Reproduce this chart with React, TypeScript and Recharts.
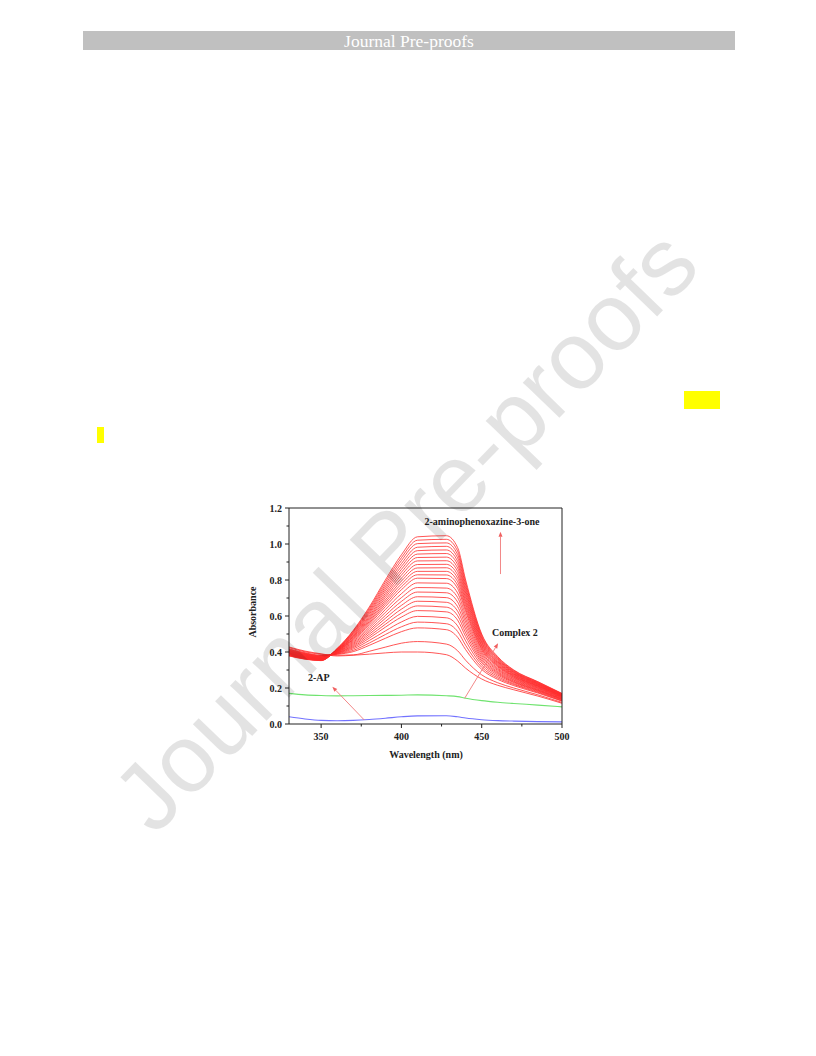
import { Line, LineChart, ReferenceLine, XAxis, YAxis } from 'recharts'

// wavelengths (nm) the spectra were read at
const wavelength = [330, 340, 350, 360, 370, 380, 390, 400, 410, 428, 435, 440, 450, 460, 470, 485, 500]

// 2-AP (blue)
const apSpectrum = [0.040, 0.028, 0.020, 0.018, 0.020, 0.025, 0.032, 0.040, 0.045, 0.046, 0.040, 0.033, 0.024, 0.019, 0.016, 0.013, 0.012]
// Complex 2 (green)
const complexSpectrum = [0.170, 0.162, 0.158, 0.156, 0.157, 0.158, 0.159, 0.160, 0.162, 0.157, 0.152, 0.143, 0.130, 0.121, 0.114, 0.105, 0.095]

// 2-aminophenoxazine-3-one growth, one row per scan (red)
const productScans: number[][] = [
  [0.428, 0.405, 0.390, 0.378, 0.382, 0.388, 0.395, 0.400, 0.400, 0.385, 0.350, 0.310, 0.250, 0.215, 0.190, 0.155, 0.115],
  [0.424, 0.401, 0.387, 0.382, 0.384, 0.404, 0.427, 0.449, 0.458, 0.444, 0.407, 0.354, 0.273, 0.229, 0.200, 0.162, 0.120],
  [0.418, 0.396, 0.382, 0.387, 0.402, 0.437, 0.476, 0.513, 0.534, 0.524, 0.482, 0.413, 0.303, 0.248, 0.213, 0.172, 0.127],
  [0.415, 0.393, 0.380, 0.389, 0.409, 0.450, 0.497, 0.540, 0.566, 0.557, 0.514, 0.437, 0.315, 0.256, 0.219, 0.176, 0.129],
  [0.413, 0.391, 0.378, 0.391, 0.417, 0.464, 0.517, 0.567, 0.598, 0.590, 0.545, 0.462, 0.328, 0.264, 0.224, 0.180, 0.132],
  [0.410, 0.389, 0.376, 0.393, 0.424, 0.477, 0.538, 0.594, 0.630, 0.623, 0.577, 0.486, 0.340, 0.272, 0.230, 0.184, 0.135],
  [0.408, 0.387, 0.375, 0.395, 0.430, 0.488, 0.554, 0.616, 0.656, 0.649, 0.602, 0.506, 0.350, 0.279, 0.234, 0.187, 0.137],
  [0.406, 0.385, 0.373, 0.396, 0.436, 0.499, 0.570, 0.638, 0.682, 0.676, 0.627, 0.526, 0.360, 0.285, 0.238, 0.190, 0.139],
  [0.404, 0.383, 0.372, 0.398, 0.442, 0.510, 0.587, 0.659, 0.707, 0.702, 0.652, 0.545, 0.370, 0.291, 0.243, 0.193, 0.141],
  [0.402, 0.382, 0.370, 0.400, 0.448, 0.520, 0.603, 0.681, 0.733, 0.729, 0.678, 0.565, 0.380, 0.298, 0.247, 0.197, 0.144],
  [0.400, 0.380, 0.369, 0.402, 0.454, 0.531, 0.620, 0.702, 0.758, 0.755, 0.703, 0.584, 0.390, 0.304, 0.252, 0.200, 0.146],
  [0.398, 0.378, 0.367, 0.403, 0.460, 0.542, 0.636, 0.724, 0.784, 0.782, 0.728, 0.604, 0.400, 0.310, 0.256, 0.203, 0.148],
  [0.396, 0.376, 0.366, 0.405, 0.466, 0.553, 0.652, 0.746, 0.810, 0.808, 0.753, 0.624, 0.410, 0.317, 0.260, 0.206, 0.150],
  [0.395, 0.375, 0.365, 0.406, 0.471, 0.561, 0.665, 0.762, 0.829, 0.828, 0.772, 0.638, 0.418, 0.322, 0.264, 0.209, 0.152],
  [0.393, 0.374, 0.363, 0.407, 0.475, 0.569, 0.677, 0.778, 0.848, 0.848, 0.791, 0.653, 0.425, 0.326, 0.267, 0.211, 0.154],
  [0.392, 0.372, 0.362, 0.409, 0.480, 0.577, 0.689, 0.794, 0.867, 0.868, 0.810, 0.668, 0.433, 0.331, 0.270, 0.213, 0.155],
  [0.390, 0.371, 0.361, 0.410, 0.484, 0.585, 0.702, 0.810, 0.886, 0.887, 0.829, 0.682, 0.440, 0.336, 0.274, 0.216, 0.157],
  [0.389, 0.369, 0.360, 0.411, 0.489, 0.593, 0.714, 0.827, 0.906, 0.907, 0.848, 0.697, 0.448, 0.341, 0.277, 0.218, 0.158],
  [0.387, 0.368, 0.359, 0.412, 0.493, 0.601, 0.726, 0.843, 0.925, 0.927, 0.867, 0.712, 0.455, 0.345, 0.280, 0.221, 0.160],
  [0.386, 0.367, 0.358, 0.414, 0.498, 0.610, 0.739, 0.859, 0.944, 0.947, 0.886, 0.727, 0.463, 0.350, 0.284, 0.223, 0.162],
  [0.384, 0.365, 0.357, 0.415, 0.502, 0.618, 0.751, 0.875, 0.963, 0.967, 0.904, 0.741, 0.470, 0.355, 0.287, 0.225, 0.163],
  [0.383, 0.364, 0.355, 0.416, 0.507, 0.626, 0.763, 0.891, 0.982, 0.987, 0.923, 0.756, 0.478, 0.360, 0.290, 0.228, 0.165],
  [0.381, 0.363, 0.354, 0.417, 0.511, 0.634, 0.775, 0.908, 1.002, 1.006, 0.942, 0.771, 0.485, 0.364, 0.293, 0.230, 0.167],
  [0.380, 0.361, 0.353, 0.419, 0.516, 0.642, 0.788, 0.924, 1.021, 1.026, 0.961, 0.785, 0.493, 0.369, 0.297, 0.233, 0.168],
  [0.378, 0.360, 0.352, 0.420, 0.520, 0.650, 0.800, 0.940, 1.040, 1.046, 0.980, 0.800, 0.500, 0.374, 0.300, 0.235, 0.170],
]

const xTicks = [350, 375, 400, 425, 450, 475, 500]
const xMajor = [350, 400, 450, 500]
const yTicks = [0, 0.1, 0.2, 0.3, 0.4, 0.5, 0.6, 0.7, 0.8, 0.9, 1.0, 1.1, 1.2]

// arrows: [tail, head] in data coordinates
const arrows = [
  [{ x: 461.7, y: 0.833 }, { x: 461.7, y: 1.068 }],
  [{ x: 439.4, y: 0.143 }, { x: 460.2, y: 0.448 }],
  [{ x: 376.9, y: 0.022 }, { x: 357.0, y: 0.207 }],
]

const data = wavelength.map((w, i) => {
  const row: Record<string, number> = { w, ap: apSpectrum[i], cx: complexSpectrum[i] }
  productScans.forEach((s, k) => (row[`s${k}`] = s[i]))
  return row
})

const FONT = '"Liberation Serif", "Times New Roman", serif'
const INK = '#222'

function XTick({ x, y, payload }: any) {
  const major = xMajor.includes(payload.value)
  return (
    <g>
      <line x1={x} x2={x} y1={y} y2={y + (major ? 4 : 2.5)} stroke={INK} />
      {major && (
        <text x={x} y={y + 16} textAnchor="middle" fontFamily={FONT} fontWeight="bold" fontSize={10} fill={INK}>
          {payload.value}
        </text>
      )}
    </g>
  )
}

function YTick({ x, y, payload }: any) {
  const major = Math.round(payload.value * 10) % 2 === 0
  return (
    <g>
      <line x1={x} x2={x - (major ? 4 : 2.5)} y1={y} y2={y} stroke={INK} />
      {major && (
        <text x={x - 7} y={y + 3.5} textAnchor="end" fontFamily={FONT} fontWeight="bold" fontSize={10} fill={INK}>
          {payload.value.toFixed(1)}
        </text>
      )}
    </g>
  )
}

function Arrow(props: any) {
  const { x1, y1, x2, y2 } = props
  const a = Math.atan2(y2 - y1, x2 - x1)
  const L = 5
  const W = 2
  const bx = x2 - L * Math.cos(a)
  const by = y2 - L * Math.sin(a)
  const px = -Math.sin(a) * W
  const py = Math.cos(a) * W
  return (
    <g>
      <line x1={x1} y1={y1} x2={bx} y2={by} stroke="#f07a7a" strokeWidth={0.9} />
      <polygon points={`${x2},${y2} ${bx + px},${by + py} ${bx - px},${by - py}`} fill="#f06060" />
    </g>
  )
}

function Note({ left, top, children, center }: { left: number; top: number; children: React.ReactNode; center?: boolean }) {
  return (
    <div
      style={{
        position: 'absolute',
        left,
        top,
        transform: center ? 'translate(-50%, -50%)' : 'translateY(-50%)',
        fontFamily: FONT,
        fontWeight: 'bold',
        fontSize: 10,
        color: INK,
        whiteSpace: 'nowrap',
        lineHeight: 1,
      }}
    >
      {children}
    </div>
  )
}

export default function App() {
  return (
    <div style={{ position: 'absolute', left: 0, top: 0, width: 816, height: 1056, background: '#fff', overflow: 'hidden' }}>
      <div
        style={{
          position: 'absolute',
          left: 83,
          top: 31,
          width: 652,
          height: 19,
          background: '#c0c0c0',
          color: '#fff',
          fontFamily: FONT,
          fontSize: 17.5,
          lineHeight: '20px',
          textAlign: 'center',
        }}
      >
        Journal Pre-proofs
      </div>
      <div style={{ position: 'absolute', left: 684, top: 391, width: 36, height: 18, background: '#ffff00' }} />
      <div style={{ position: 'absolute', left: 96.5, top: 427, width: 7.5, height: 16, background: '#ffff00' }} />

      <div style={{ position: 'absolute', left: 240, top: 495 }}>
        <LineChart width={330} height={275} data={data} margin={{ top: 12, right: 7, bottom: 0, left: 0 }}>
          <XAxis
            dataKey="w"
            type="number"
            domain={[330, 500]}
            ticks={xTicks}
            tick={<XTick />}
            tickLine={false}
            tickSize={0}
            tickMargin={0}
            height={46}
            axisLine={{ stroke: INK }}
            interval={0}
          />
          <XAxis xAxisId="top" orientation="top" type="number" domain={[330, 500]} tick={false} tickLine={false} height={1} axisLine={{ stroke: INK }} />
          <YAxis
            type="number"
            domain={[0, 1.2]}
            ticks={yTicks}
            tick={<YTick />}
            tickLine={false}
            tickSize={0}
            tickMargin={0}
            width={49}
            axisLine={{ stroke: INK }}
            interval={0}
          />
          <YAxis yAxisId="right" orientation="right" type="number" domain={[0, 1.2]} tick={false} tickLine={false} width={1} axisLine={{ stroke: INK }} />
          {productScans.map((_, k) => (
            <Line key={k} dataKey={`s${k}`} type="monotone" stroke="#ff2a2a" strokeWidth={0.8} dot={false} isAnimationActive={false} />
          ))}
          <Line dataKey="cx" type="monotone" stroke="#6fe36f" strokeWidth={1.1} dot={false} isAnimationActive={false} />
          <Line dataKey="ap" type="monotone" stroke="#7272ff" strokeWidth={1.1} dot={false} isAnimationActive={false} />
          {arrows.map((seg, i) => (
            <ReferenceLine key={i} segment={seg} shape={<Arrow />} ifOverflow="visible" />
          ))}
        </LineChart>
      </div>

      <Note left={482} top={522} center>2-aminophenoxazine-3-one</Note>
      <Note left={492} top={633}>Complex 2</Note>
      <Note left={308} top={678}>2-AP</Note>
      <Note left={426} top={755} center>Wavelength (nm)</Note>
      <div
        style={{
          position: 'absolute',
          left: 253,
          top: 612,
          transform: 'translate(-50%, -50%) rotate(-90deg)',
          fontFamily: FONT,
          fontWeight: 'bold',
          fontSize: 10,
          color: INK,
          whiteSpace: 'nowrap',
          lineHeight: 1,
        }}
      >
        Absorbance
      </div>

      <div
        style={{
          position: 'absolute',
          left: 405,
          top: 530,
          transform: 'translate(-50%, -50%) rotate(-46deg)',
          fontFamily: '"Liberation Sans", Arial, sans-serif',
          fontSize: 96,
          color: 'rgba(0,0,0,0.11)',
          whiteSpace: 'nowrap',
          lineHeight: 1,
          pointerEvents: 'none',
        }}
      >
        Journal Pre-proofs
      </div>
    </div>
  )
}
